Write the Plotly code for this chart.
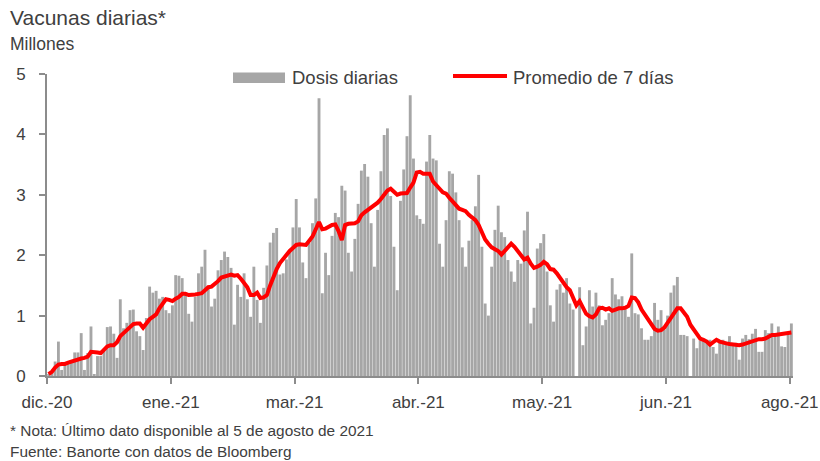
import pandas as pd
import plotly.graph_objects as go

# Datos (millones de dosis por día), del 20-dic-2020 al 5-ago-2021
fecha_inicio = "2020-12-20"

dosis_diarias = [
    0.03, 0.05, 0.24, 0.57, 0.1, 0.2, 0.2, 0.22, 0.39, 0.39, 0.71, 0.1, 0.38, 0.82,
    0.03, 0.33, 0.33, 0.42, 0.81, 0.82, 0.7, 0.3, 1.27, 0.79, 0.88, 1.09, 1.1, 0.74,
    0.66, 0.43, 0.96, 1.48, 1.38, 1.41, 1.28, 1.31, 1.09, 1.04, 1.17, 1.67, 1.66, 1.62,
    1.35, 1.03, 0.9, 1.31, 1.7, 1.81, 2.09, 1.48, 1.15, 1.28, 1.75, 1.92, 2.06, 1.97,
    1.79, 0.85,
    1.51, 1.31, 1.7, 1.27, 0.98, 1.81, 1.26, 0.88, 1.46, 1.83, 2.21, 2.37, 2.45, 1.68,
    1.7, 1.93, 2.06, 2.46, 2.93, 2.46, 1.88, 1.62, 2.2, 2.53, 2.94, 4.6, 1.37, 2.04, 1.67,
    2.32, 2.7, 2.63, 3.15, 3.07, 2.04, 1.73, 2.27, 2.85, 3.4, 3.51, 3.3, 2.53, 1.81,
    2.75, 3.39, 3.99, 4.1, 2.98, 2.14, 1.42, 2.9, 3.42, 3.97, 4.65, 3.6, 2.66,
    2.6, 2.52, 3.55, 3.99, 3.6, 3.57, 2.19, 1.81, 2.58, 3.39, 3.35, 3.04, 2.58, 2.13,
    1.81, 2.24, 2.58, 2.81, 3.33, 2.14, 1.2, 1.0, 1.81, 2.42, 2.82, 2.38, 2.3, 1.92,
    1.73, 1.56, 1.92,
    1.86, 2.41, 2.72, 0.87, 1.13, 2.11, 2.2, 2.35, 1.73, 1.17, 0.9, 1.43, 1.52, 1.38,
    1.62, 1.2, 1.1, 0.0, 1.47, 0.51, 0.82, 1.42, 1.15, 1.38, 1.17, 0.84, 0.93, 1.04,
    1.62, 1.35,
    1.27, 1.32, 1.1, 0.98, 2.03, 1.04, 1.02, 0.79, 0.6, 0.6, 0.66, 1.21, 0.93, 1.09,
    0.77, 1.0, 1.38, 1.5, 1.64, 0.68, 0.68, 0.66, 0.0, 0.62, 0.46, 0.59, 0.61, 0.6,
    0.6, 0.48, 0.37, 0.57, 0.6, 0.57, 0.66, 0.52, 0.55, 0.27, 0.62, 0.68, 0.61, 0.7,
    0.78, 0.4, 0.4, 0.76, 0.71, 0.87, 0.71, 0.82, 0.49, 0.48, 0.72, 0.87,
]

promedio_7d = [
    0.03, 0.07, 0.14, 0.19, 0.2, 0.2, 0.22, 0.24, 0.26, 0.27, 0.29, 0.3, 0.32, 0.4,
    0.4, 0.39, 0.38, 0.44, 0.49, 0.51, 0.51, 0.56, 0.66, 0.71, 0.76, 0.82, 0.86, 0.87,
    0.87, 0.8, 0.88, 0.94, 0.98, 1.02, 1.12, 1.2, 1.27, 1.26, 1.24, 1.28, 1.31, 1.36,
    1.36, 1.34, 1.34, 1.35, 1.36, 1.37, 1.42, 1.47, 1.48, 1.52, 1.57, 1.63, 1.65, 1.67,
    1.68, 1.66, 1.67, 1.61, 1.55, 1.47, 1.34, 1.34, 1.38, 1.29, 1.3, 1.34, 1.5, 1.64,
    1.77, 1.87, 1.94, 2.02, 2.07, 2.12, 2.17, 2.18, 2.18, 2.17, 2.24, 2.31, 2.43, 2.55,
    2.43, 2.44, 2.47, 2.5, 2.51, 2.4, 2.25, 2.5, 2.52, 2.53, 2.53, 2.56, 2.66, 2.71,
    2.75, 2.78, 2.81, 2.87, 2.93, 3.01, 3.07, 3.1, 3.04, 3.0, 3.02, 3.02, 3.03, 3.12,
    3.2, 3.37, 3.38, 3.35, 3.35, 3.35, 3.22, 3.17, 3.1, 3.04, 3.02, 2.95, 2.89, 2.82,
    2.77, 2.75, 2.73, 2.67, 2.63, 2.58, 2.5, 2.36, 2.26, 2.19, 2.13, 2.1, 2.07, 2.01,
    2.07, 2.15, 2.19, 2.14, 2.06, 2.0, 1.93, 1.96, 1.86, 1.79, 1.81, 1.84, 1.89, 1.85,
    1.77, 1.76, 1.7, 1.62, 1.53, 1.47, 1.42, 1.31, 1.17, 1.24, 1.13, 1.03, 0.99, 0.97,
    1.02, 1.12, 1.13, 1.1, 1.12, 1.08, 1.1, 1.12, 1.12, 1.13, 1.16, 1.3, 1.29, 1.22,
    1.1, 1.02, 0.94, 0.84, 0.78, 0.75, 0.76, 0.8, 0.88, 0.94, 1.02, 1.12, 1.12, 1.05,
    0.98, 0.85, 0.77, 0.68, 0.62, 0.6, 0.57, 0.52, 0.57, 0.6, 0.57, 0.55, 0.54, 0.53,
    0.52, 0.52, 0.51, 0.52, 0.54, 0.55, 0.57, 0.59, 0.61, 0.61, 0.62, 0.65, 0.68, 0.68,
    0.69, 0.7, 0.7, 0.71, 0.72,
]

# Etiquetas del eje X (una cada 38 días, como en el original)
etiquetas_x = ["dic.-20", "ene.-21", "mar.-21", "abr.-21", "may.-21", "jun.-21", "ago.-21"]
paso_ticks_dias = 38

nombre_barras = "Dosis diarias"
nombre_linea = "Promedio de 7 días"

GRIS_BARRA = "#a6a6a6"
ROJO = "#ff0000"
GRIS_EJE = "#8c8c8c"
TEXTO = "#404040"
FUENTE = "Liberation Sans"

# Área de trazado en px de la ventana (la página se deja sin margen propio)
W, H = 820, 461
PX_L, PX_R, PX_T, PX_B = 47, 793, 74, 376


def px_x(x):
    return (x - PX_L) / (PX_R - PX_L)


def px_y(y):
    return (PX_B - y) / (PX_B - PX_T)


inicio = pd.Timestamp(fecha_inicio)
fechas = pd.date_range(inicio, periods=len(dosis_diarias), freq="D")
# barras centradas en la mitad del día (eje de fechas "entre marcas")
centros = fechas + pd.Timedelta(hours=12)
ticks = [inicio + pd.Timedelta(days=paso_ticks_dias * i) for i in range(len(etiquetas_x))]

fig = go.Figure()

fig.add_trace(go.Bar(
    x=centros, y=dosis_diarias, name=nombre_barras,
    marker=dict(color=GRIS_BARRA, line=dict(width=0)),
))
fig.add_trace(go.Scatter(
    x=centros, y=promedio_7d, name=nombre_linea, mode="lines",
    line=dict(color=ROJO, width=4),
))

fig.update_layout(
    width=W, height=H, autosize=False,
    paper_bgcolor="white", plot_bgcolor="white",
    margin=dict(l=PX_L, r=W - PX_R, t=PX_T, b=H - PX_B),
    bargap=0.12,
    font=dict(family=FUENTE, color=TEXTO, size=16),
    showlegend=False,
)

fig.update_xaxes(
    type="date", automargin=False,
    range=[inicio, fechas[-1] + pd.Timedelta(days=1)],
    tickvals=ticks, ticktext=etiquetas_x,
    showgrid=False, zeroline=False,
    showline=True, linecolor=GRIS_EJE, linewidth=2,
    ticks="outside", ticklen=6, tickwidth=2, tickcolor=GRIS_EJE,
    tickfont=dict(size=17, color=TEXTO), ticklabelstandoff=4,
)
fig.update_yaxes(
    range=[0, 5], dtick=1, automargin=False,
    showgrid=False, zeroline=False,
    showline=True, linecolor=GRIS_EJE, linewidth=2,
    ticks="outside", ticklen=6, tickwidth=2, tickcolor=GRIS_EJE,
    tickfont=dict(size=17, color=TEXTO), ticklabelstandoff=10,
)

# Leyenda dibujada a mano (muestras anchas como en el original)
fig.add_shape(
    type="rect", xref="paper", yref="paper",
    x0=px_x(233), x1=px_x(285), y0=px_y(83), y1=px_y(72.5),
    fillcolor=GRIS_BARRA, line=dict(width=0),
)
fig.add_shape(
    type="line", xref="paper", yref="paper",
    x0=px_x(453), x1=px_x(507), y0=px_y(76), y1=px_y(76),
    line=dict(color=ROJO, width=4),
)

# Títulos, leyenda y notas: (texto, x px, y px, tamaño)
textos = [
    ("Vacunas diarias*", 8, 17, 21),
    ("Millones", 8, 44, 17.5),
    (nombre_barras, 290, 77, 18.5),
    (nombre_linea, 511, 77, 18.5),
    ("* Nota: Último dato disponible al 5 de agosto de 2021", 8, 430, 15.4),
    ("Fuente: Banorte con datos de Bloomberg", 8, 451, 15.4),
]
for texto, x_px, y_px, tam in textos:
    fig.add_annotation(
        text=texto, xref="paper", yref="paper",
        x=px_x(x_px), y=px_y(y_px),
        xanchor="left", yanchor="middle", showarrow=False,
        font=dict(size=tam, color=TEXTO, family=FUENTE),
    )

# quitar el margen de 8 px del <body> para que la figura ocupe toda la ventana
fig.write_html(
    "out.html",
    config={"displayModeBar": False},
    post_script="document.body.style.margin='0';document.body.style.overflow='hidden';",
)
